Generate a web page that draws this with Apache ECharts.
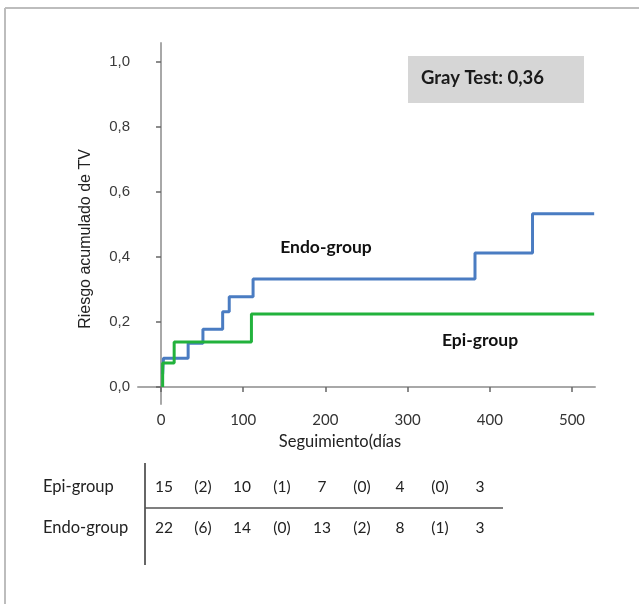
<!DOCTYPE html>
<html>
<head>
<meta charset="utf-8">
<script src="https://cdn.jsdelivr.net/npm/echarts@6/dist/echarts.min.js"></script>
<style>html,body{margin:0;padding:0;background:#fff;}#c{width:639px;height:604px;}</style>
</head>
<body>
<div id="c"></div>
<script>
// ---- data ----
var xTicks = [0, 100, 200, 300, 400, 500];
var yTicks = [0, 0.2, 0.4, 0.6, 0.8, 1.0];
var endoDays   = [2, 3, 33, 51, 75, 83, 112, 382, 452, 527];
var endoRisk   = [0.04, 0.089, 0.135, 0.178, 0.232, 0.278, 0.332, 0.412, 0.533, 0.533];
var epiDays    = [2, 2, 16, 110, 527];
var epiRisk    = [0, 0.074, 0.139, 0.225, 0.225];
var tableRows  = ['Epi-group', 'Endo-group'];
var epiAtRisk  = ['15', '(2)', '10', '(1)', '7', '(0)', '4', '(0)', '3'];
var endoAtRisk = ['22', '(6)', '14', '(0)', '13', '(2)', '8', '(1)', '3'];
var grayTest   = 'Gray Test: 0,36';
var yTitle     = 'Riesgo acumulado de TV';
var xTitle     = 'Seguimiento(días';

function pairs(xs, ys) { return xs.map(function (x, i) { return [x, ys[i]]; }); }

var chart = echarts.init(document.getElementById('c'), null, { renderer: 'canvas' });

var calibri = 'Lato, "Open Sans", sans-serif';
var colX = [164, 203, 242, 282, 322, 362, 400, 440, 480];
var graphics = [
  // outer frame
  { type: 'line', shape: { x1: 5, y1: 8, x2: 639, y2: 8 }, style: { stroke: '#bdbdbd', lineWidth: 2 } },
  { type: 'line', shape: { x1: 5, y1: 8, x2: 5, y2: 604 }, style: { stroke: '#bdbdbd', lineWidth: 2 } },
  // gray test box
  { type: 'rect', shape: { x: 408, y: 56, width: 176, height: 47 }, style: { fill: '#d6d6d6' } },
  { type: 'text', x: 421, y: 78, style: { text: grayTest, font: 'bold 18.5px ' + calibri, fill: '#1a1a1a', verticalAlign: 'middle' } },
  // series labels
  { type: 'text', x: 326, y: 247, style: { text: 'Endo-group', font: 'bold 17.5px ' + calibri, fill: '#111', align: 'center', verticalAlign: 'middle' } },
  { type: 'text', x: 480, y: 340, style: { text: 'Epi-group', font: 'bold 17.5px ' + calibri, fill: '#111', align: 'center', verticalAlign: 'middle' } },
  // axis titles
  { type: 'text', x: 86, y: 239, rotation: Math.PI / 2, style: { text: yTitle, font: '16px "Liberation Sans", Arial, sans-serif', fill: '#222', align: 'center', verticalAlign: 'middle' } },
  { type: 'text', x: 340, y: 442, style: { text: xTitle, font: '16.5px ' + calibri, fill: '#222', align: 'center', verticalAlign: 'middle' } },
  // table lines
  { type: 'line', shape: { x1: 145, y1: 463, x2: 145, y2: 565 }, style: { stroke: '#333', lineWidth: 1.5 } },
  { type: 'line', shape: { x1: 145, y1: 508, x2: 503, y2: 508 }, style: { stroke: '#555', lineWidth: 1.5 } },
  { type: 'text', x: 43, y: 487, style: { text: tableRows[0], font: '16.5px ' + calibri, fill: '#222', verticalAlign: 'middle' } },
  { type: 'text', x: 43, y: 528, style: { text: tableRows[1], font: '16.5px ' + calibri, fill: '#222', verticalAlign: 'middle' } }
];
epiAtRisk.forEach(function (t, i) {
  graphics.push({ type: 'text', x: colX[i], y: 487, style: { text: t, font: '15.5px ' + calibri, fill: '#222', align: 'center', verticalAlign: 'middle' } });
});
endoAtRisk.forEach(function (t, i) {
  graphics.push({ type: 'text', x: colX[i], y: 528, style: { text: t, font: '15.5px ' + calibri, fill: '#222', align: 'center', verticalAlign: 'middle' } });
});

chart.setOption({
  animation: false,
  backgroundColor: '#fff',
  grid: { left: 138, top: 43, width: 457, height: 361, containLabel: false },
  xAxis: {
    type: 'value', min: -28, max: 528,
    axisLine: { show: true, lineStyle: { color: '#a8a8a8', width: 2 } },
    axisTick: { show: true, customValues: xTicks, length: 5, lineStyle: { color: '#666', width: 1.5 } },
    axisLabel: { customValues: xTicks, margin: 9, fontFamily: calibri, fontSize: 15, color: '#333' },
    splitLine: { show: false }
  },
  yAxis: {
    type: 'value', min: -0.052, max: 1.058,
    axisLine: { show: true, lineStyle: { color: '#a8a8a8', width: 2 } },
    axisTick: { show: true, customValues: yTicks, length: 5, lineStyle: { color: '#666', width: 1.5 } },
    axisLabel: {
      customValues: yTicks, margin: 8, fontFamily: '"Liberation Sans", Arial, sans-serif', fontSize: 15, color: '#3a3a3a',
      formatter: function (v) { return v.toFixed(1).replace('.', ','); }
    },
    splitLine: { show: false }
  },
  series: [
    { name: 'Endo-group', type: 'line', step: 'end', showSymbol: false, data: pairs(endoDays, endoRisk),
      lineStyle: { color: '#4a7cc2', width: 3 }, itemStyle: { color: '#4a7cc2' } },
    { name: 'Epi-group', type: 'line', step: 'end', showSymbol: false, data: pairs(epiDays, epiRisk),
      lineStyle: { color: '#22b23c', width: 3 }, itemStyle: { color: '#22b23c' } }
  ],
  graphic: graphics
});
</script>
</body>
</html>
